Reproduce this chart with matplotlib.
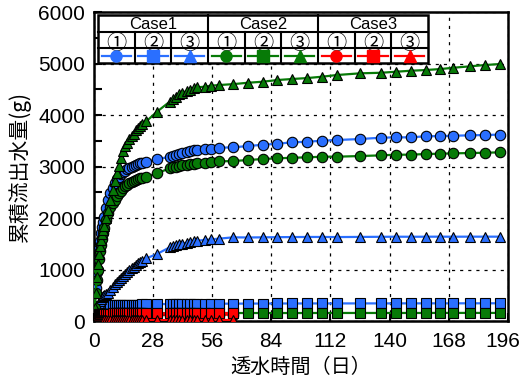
import matplotlib
matplotlib.use("Agg")
import matplotlib.pyplot as plt
import matplotlib.transforms as mtransforms
from matplotlib.lines import Line2D
from matplotlib.patches import Rectangle

plt.rcParams['font.family'] = ['Liberation Sans', 'Noto Sans CJK JP', 'DejaVu Sans']

# days of each measurement
t_main = [0, 0.5, 1, 1.5, 2, 2.5, 3, 3.5, 4, 4.5, 5, 6, 7, 8, 9, 10, 11, 12, 13, 14,
          15, 16, 17, 18, 19, 20, 21, 22, 23, 25, 30, 36, 37.5, 39, 40.5, 42, 44, 45.5,
          47.5, 49, 52.5, 55.5, 59.5, 66, 73, 80, 87, 94, 101, 108, 115, 126, 136, 143,
          150, 157, 164, 170, 178, 185, 192]
t_case3 = t_main[:44]

# cumulative outflow (g)
case1_1 = [0, 300, 650, 950, 1200, 1400, 1550, 1700, 1820, 1930, 2020, 2200, 2350, 2480,
           2590, 2680, 2750, 2800, 2850, 2890, 2920, 2950, 2970, 2990, 3010, 3030, 3045,
           3060, 3075, 3095, 3140, 3190, 3210, 3230, 3250, 3268, 3288, 3300, 3315, 3325,
           3334, 3350, 3365, 3373, 3398, 3423, 3443, 3470, 3482, 3501, 3515, 3534, 3560,
           3567, 3567, 3587, 3592, 3598, 3606, 3612, 3620]
case1_2 = [0, 100, 180, 230, 260, 280, 290, 295, 298, 300, 302, 304, 305, 306, 307, 308,
           309, 310, 311, 312, 313, 314, 315, 316, 317, 318, 319, 320, 321, 323, 328, 330,
           331, 331, 332, 332, 333, 333, 334, 334, 335, 335, 336, 337, 338, 339, 340, 340,
           341, 341, 341, 342, 342, 342, 343, 343, 343, 343, 344, 344, 344]
case1_3 = [0, 80, 160, 230, 290, 340, 390, 430, 460, 480, 500, 520, 545, 600, 660, 710,
           750, 790, 830, 870, 910, 950, 990, 1020, 1050, 1085, 1126, 1150, 1175, 1217,
           1301, 1430, 1450, 1470, 1490, 1505, 1520, 1535, 1550, 1560, 1573, 1585, 1600,
           1625, 1622, 1625, 1628, 1630, 1632, 1632, 1630, 1633, 1635, 1637, 1636, 1637,
           1638, 1637, 1638, 1638, 1638]
case2_1 = [0, 250, 550, 800, 1000, 1200, 1350, 1480, 1600, 1700, 1800, 1960, 2100, 2220,
           2300, 2350, 2420, 2480, 2530, 2580, 2620, 2650, 2680, 2700, 2720, 2740, 2755,
           2770, 2785, 2805, 2868, 2965, 2984, 2997, 3010, 3023, 3035, 3045, 3055, 3062,
           3074, 3087, 3100, 3107, 3126, 3146, 3159, 3171, 3178, 3191, 3191, 3204, 3217,
           3230, 3230, 3243, 3249, 3256, 3262, 3268, 3275]
case2_2 = [0, 60, 100, 120, 130, 135, 138, 140, 141, 142, 143, 144, 145, 145, 146, 146,
           147, 147, 148, 148, 148, 149, 149, 149, 150, 150, 150, 150, 151, 151, 152, 152,
           152, 152, 153, 153, 153, 153, 153, 154, 154, 154, 154, 155, 155, 155, 155, 155,
           155, 156, 156, 156, 156, 156, 156, 156, 157, 157, 157, 157, 157]
case2_3 = [0, 250, 550, 850, 1100, 1300, 1450, 1580, 1680, 1770, 1850, 2000, 2150, 2350,
           2550, 2720, 2880, 3020, 3160, 3300, 3400, 3460, 3530, 3590, 3640, 3700, 3740,
           3790, 3830, 3880, 4064, 4258, 4305, 4355, 4400, 4433, 4466, 4485, 4518, 4538,
           4550, 4570, 4583, 4600, 4627, 4647, 4680, 4700, 4718, 4744, 4777, 4810, 4821,
           4841, 4860, 4874, 4893, 4918, 4946, 4971, 4990]
case3_1 = [0, 40, 70, 85, 95, 100, 103, 105, 106, 107, 108, 109, 110, 110, 111, 111, 112,
           112, 113, 113, 114, 114, 115, 115, 115, 116, 116, 116, 117, 117, 118, 118, 119,
           119, 119, 120, 120, 120, 120, 121, 121, 121, 122, 122]
case3_2 = [0, 60, 100, 120, 130, 135, 138, 140, 141, 142, 143, 144, 145, 145, 146, 146,
           147, 147, 147, 148, 148, 148, 149, 149, 149, 150, 150, 150, 150, 151, 151, 152,
           152, 152, 152, 153, 153, 153, 153, 154, 154, 154, 154, 155]
case3_3 = [0, 5, 8, 10, 11, 12, 12, 13, 13, 13, 14, 14, 14, 14, 15, 15, 15, 15, 15, 16,
           16, 16, 16, 16, 16, 17, 17, 17, 17, 17, 18, 18, 18, 18, 18, 18, 19, 19, 19, 19,
           19, 20, 20, 20]

blue = "#2a6fff"
green = "#077a07"
red = "#ff0000"

series = [
    (t_main, case1_1, blue, 'o'), (t_main, case1_2, blue, 's'), (t_main, case1_3, blue, '^'),
    (t_main, case2_1, green, 'o'), (t_main, case2_2, green, 's'), (t_main, case2_3, green, '^'),
    (t_case3, case3_1, red, 'o'), (t_case3, case3_2, red, 's'), (t_case3, case3_3, red, '^'),
]

fig = plt.figure(figsize=(5.23, 3.89), dpi=100)
ax = fig.add_axes([0.1788, 0.1748, 0.7925, 0.7942])

for i, (t, y, c, m) in enumerate(series):
    ax.plot(t, y, '-', color=c, lw=1.6, marker=m, ms=7.5, mfc=c, mec='black',
            mew=0.8, zorder=3 + i * 0.1)

ax.set_xlim(0, 196)
ax.set_ylim(0, 6000)
ax.set_xticks(range(0, 197, 28))
ax.set_yticks(range(0, 6001, 1000))
ax.set_yticks(range(500, 6000, 1000), minor=True)
ax.tick_params(direction='in', labelsize=15, length=6, width=1.5, pad=6)
ax.tick_params(axis='x', pad=8)
ax.tick_params(which='minor', direction='in', length=6, width=1.5)
ax.grid(True, color='black', linestyle=(0, (2.5, 4)), linewidth=0.9)
for s in ax.spines.values():
    s.set_linewidth(1.8)

# keep the last x label inside the picture
last = ax.get_xticklabels()[-1]
last.set_transform(last.get_transform() +
                   mtransforms.ScaledTranslation(-5 / 100, 0, fig.dpi_scale_trans))

ax.set_xlabel("透水時間（日）", fontsize=14.5, family=['Noto Sans CJK JP'], labelpad=4)
ax.set_ylabel("累積流出水量(g)", fontsize=15, family=['Noto Sans CJK JP'], labelpad=5)

# legend table
left, right = 0.011, 0.807
top, r1, r2, bottom = 0.990, 0.935, 0.883, 0.835
ncol = 9
cw = (right - left) / ncol
ax.add_patch(Rectangle((left, bottom), right - left, top - bottom, transform=ax.transAxes,
                       facecolor='white', edgecolor='black', lw=1.8, zorder=10))
for yy in (r1, r2):
    ax.add_line(Line2D([left, right], [yy, yy], transform=ax.transAxes, color='black',
                       lw=1.5, zorder=11))
for k in range(1, ncol):
    x = left + k * cw
    y0 = top if k % 3 == 0 else r1
    ax.add_line(Line2D([x, x], [bottom, y0], transform=ax.transAxes, color='black',
                       lw=1.5, zorder=11))
case_names = ["Case1", "Case2", "Case3"]
nums = ["①", "②", "③"]
for g in range(3):
    ax.text(left + (3 * g + 1.5) * cw, (top + r1) / 2 - 0.003, case_names[g],
            transform=ax.transAxes, ha='center', va='center', fontsize=12, zorder=12)
for k, (t, y, c, m) in enumerate(series):
    xc = left + (k + 0.5) * cw
    ax.text(xc, (r1 + r2) / 2 - 0.004, nums[k % 3], transform=ax.transAxes, ha='center',
            va='center_baseline', fontsize=14.5, family=['Noto Sans CJK JP'], zorder=12)
    ax.add_line(Line2D([xc - 0.4 * cw, xc + 0.4 * cw], [(r2 + bottom) / 2] * 2,
                       transform=ax.transAxes, color=c, lw=1.6, zorder=12))
    ax.add_line(Line2D([xc], [(r2 + bottom) / 2], transform=ax.transAxes, marker=m,
                       ms=8, mfc=c, mec=c, color=c, zorder=13))

fig.savefig("out.png", dpi=100)
